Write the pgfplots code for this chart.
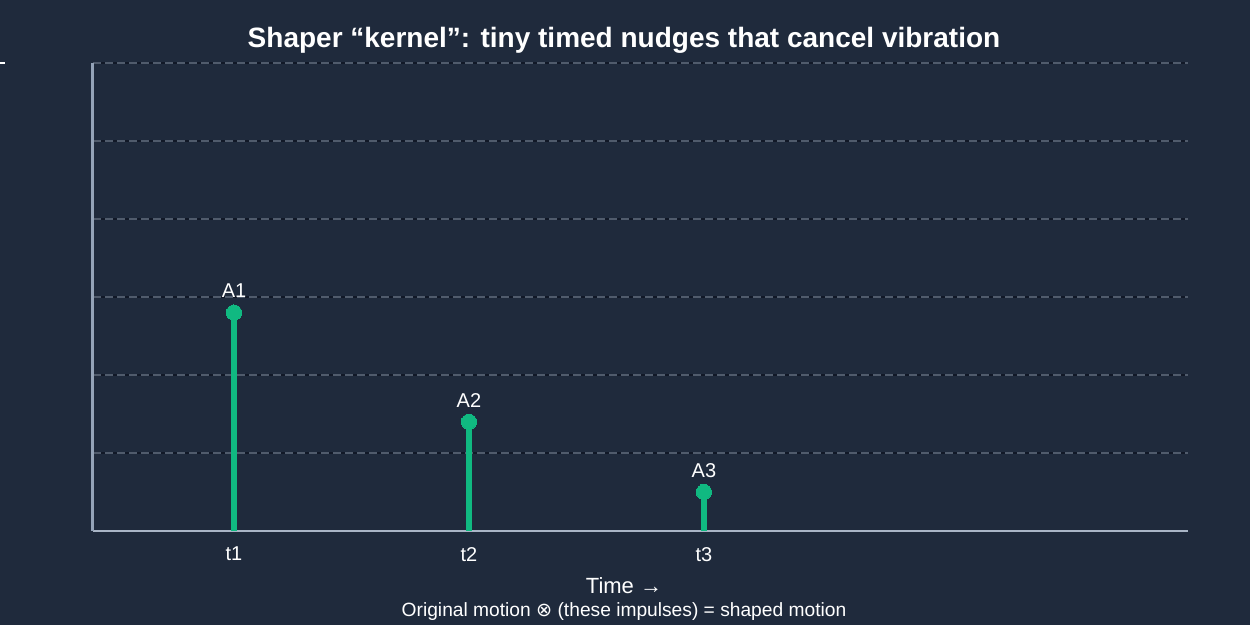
\documentclass[border=0pt]{standalone}
\usepackage{pgfplots}
\pgfplotsset{compat=1.18}
\usepackage{fontspec}
\setmainfont{Liberation Sans}
\newfontfamily\symfont{DejaVu Sans}

\definecolor{bg}{HTML}{1F2A3C}
\definecolor{stem}{HTML}{10B981}
\definecolor{gridc}{HTML}{505B6C}
\definecolor{gridd}{HTML}{111827}
\definecolor{axc}{HTML}{94A3B8}

\begin{document}
\begin{tikzpicture}
% page = 1250 x 625 px, 1 px = 0.5pt
\fill[bg] (0pt,0pt) rectangle (625pt,312.5pt);
\path[use as bounding box] (0pt,0pt) rectangle (625pt,312.5pt);
\draw[white, line width=1pt] (0pt,281pt) -- (2.5pt,281pt);

\begin{axis}[
    at={(46.5pt,47pt)}, anchor=origin,
    scale only axis,
    width=547.5pt, height=234pt,
    xmin=0.4, xmax=5.06,
    ymin=0, ymax=1.2,
    axis x line*=bottom,
    axis y line*=left,
    x axis line style={draw=axc!80!white, line width=1pt, -},
    y axis line style={draw=axc, line width=1.5pt, -},
    xtick={1,2,3},
    xticklabels={t1,t2,t3},
    ytick={0,0.2,...,1.2},
    yticklabels={},
    major tick length=0pt,
    ymajorgrids,
    grid style={draw=gridc, line width=0.7pt, dash pattern=on 4pt off 2pt,
        preaction={draw=gridd, solid, line width=0.7pt}},
    tick label style={white, font=\fontsize{10}{12}\selectfont},
    xticklabel style={yshift=-4.5pt},
    clip=false,
]
\addplot[ycomb, stem, line width=3pt,
    mark=*, mark size=3.8pt, mark options={fill=stem, draw=stem, line width=0pt},
    point meta=explicit symbolic,
    nodes near coords,
    nodes near coords style={white, font=\fontsize{10}{12}\selectfont, anchor=south, yshift=4pt}]
    coordinates {
    (1,0.56) [A1]
    (2,0.28) [A2]
    (3,0.10) [A3]
    };
\end{axis}

\node[white, font=\bfseries\fontsize{14}{17}\selectfont] at (312pt,292.5pt) {Shaper “kernel”: tiny timed nudges that cancel vibration};
\node[white, font=\fontsize{11}{13}\selectfont] at (312pt,19.5pt) {Time →};
\node[white, font=\fontsize{9.6}{11}\selectfont] at (312pt,6.7pt) {Original motion {\symfont ⊗} (these impulses) = shaped motion};
\end{tikzpicture}
\end{document}
